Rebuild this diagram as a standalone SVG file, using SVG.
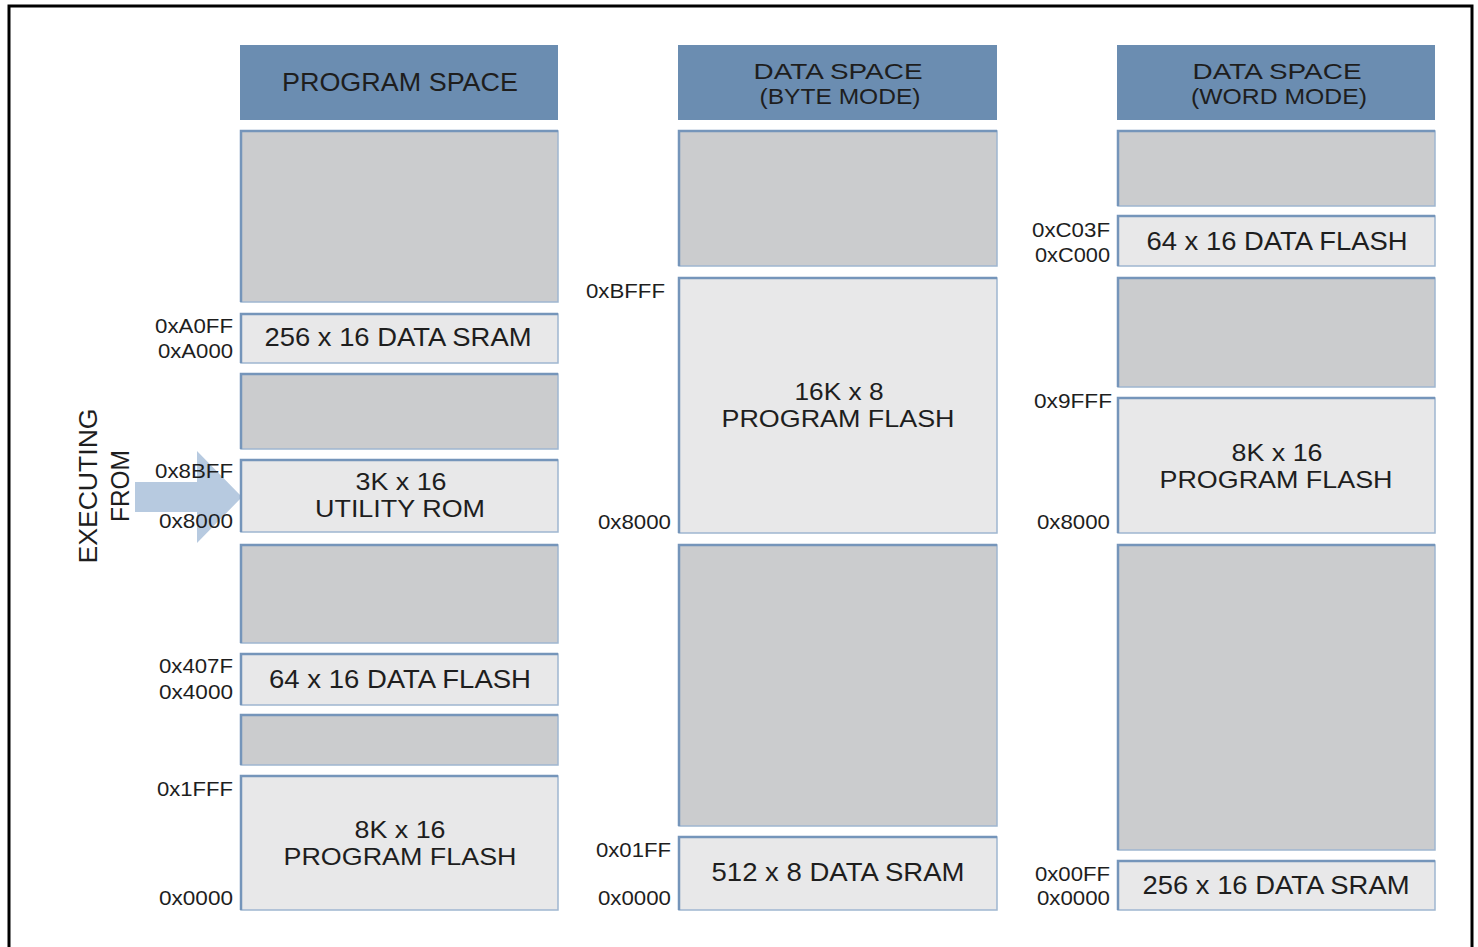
<svg xmlns="http://www.w3.org/2000/svg" width="1478" height="947" viewBox="0 0 1478 947">
<style>
  .frame{fill:#ffffff;stroke:#000000;stroke-width:3}
  .hdr{fill:#6b8db1}
  .gray{fill:#cbccce;stroke:#9fb6d0;stroke-width:1.5}
  .lite{fill:#e8e8e9;stroke:#9fb6d0;stroke-width:1.5}
  .edge{fill:none;stroke:#7595ba;stroke-width:2.5}
  text{font-family:"Liberation Sans",Arial,Helvetica,sans-serif;fill:#1e1e1e}
  .lbl{font-size:26px;text-anchor:middle}
  .lbl2{font-size:24px;text-anchor:middle}
  .htxt{font-size:25px;text-anchor:middle}
  .htxt2{font-size:22px;text-anchor:middle}
  .addr{font-size:21px;text-anchor:end}
  .side{font-size:26px;text-anchor:middle}
</style>
<rect class="frame" x="9" y="6" width="1463" height="960"/>

<!-- Column headers -->
<g id="hdr-program">
  <rect class="hdr" x="240" y="45" width="318" height="75"/>
  <text class="htxt" x="400" y="91" textLength="236" lengthAdjust="spacingAndGlyphs">PROGRAM SPACE</text>
</g>
<g id="hdr-data-byte">
  <rect class="hdr" x="678" y="45" width="319" height="75"/>
  <text class="htxt2" x="838" y="79" textLength="169" lengthAdjust="spacingAndGlyphs">DATA SPACE</text>
  <text class="htxt2" x="840" y="104" textLength="161" lengthAdjust="spacingAndGlyphs">(BYTE MODE)</text>
</g>
<g id="hdr-data-word">
  <rect class="hdr" x="1117" y="45" width="318" height="75"/>
  <text class="htxt2" x="1277" y="79" textLength="169" lengthAdjust="spacingAndGlyphs">DATA SPACE</text>
  <text class="htxt2" x="1279" y="104" textLength="176" lengthAdjust="spacingAndGlyphs">(WORD MODE)</text>
</g>

<!-- Program space column -->
<g id="p-gray1">
  <rect class="gray" x="241" y="131" width="317" height="171"/>
  <path class="edge" d="M241 302 V131 H558"/>
</g>
<g id="p-sram">
  <rect class="lite" x="241" y="314" width="317" height="49"/>
  <path class="edge" d="M241 363 V314 H558"/>
  <text class="lbl" x="398" y="346" textLength="267" lengthAdjust="spacingAndGlyphs">256 x 16 DATA SRAM</text>
  <text class="addr" x="233" y="333" textLength="78" lengthAdjust="spacingAndGlyphs">0xA0FF</text>
  <text class="addr" x="233" y="358" textLength="75" lengthAdjust="spacingAndGlyphs">0xA000</text>
</g>
<g id="p-gray2">
  <rect class="gray" x="241" y="374" width="317" height="75"/>
  <path class="edge" d="M241 449 V374 H558"/>
</g>
<g id="executing-arrow">
  <path d="M135 482 H197 V451 L242 497 L197 543 V512 H135 Z" fill="#aac1db" opacity="0.85"/>
</g>
<g id="p-rom">
  <rect class="lite" x="241" y="460" width="317" height="72"/>
  <path class="edge" d="M241 532 V460 H558"/>
  <text class="lbl2" x="401" y="490" textLength="91" lengthAdjust="spacingAndGlyphs">3K x 16</text>
  <text class="lbl2" x="400" y="517" textLength="170" lengthAdjust="spacingAndGlyphs">UTILITY ROM</text>
  <text class="addr" x="233" y="478" textLength="78" lengthAdjust="spacingAndGlyphs">0x8BFF</text>
  <text class="addr" x="233" y="528" textLength="74" lengthAdjust="spacingAndGlyphs">0x8000</text>
</g>
<g id="p-gray3">
  <rect class="gray" x="241" y="545" width="317" height="98"/>
  <path class="edge" d="M241 643 V545 H558"/>
</g>
<g id="p-dflash">
  <rect class="lite" x="241" y="654" width="317" height="51"/>
  <path class="edge" d="M241 705 V654 H558"/>
  <text class="lbl" x="400" y="688" textLength="262" lengthAdjust="spacingAndGlyphs">64 x 16 DATA FLASH</text>
  <text class="addr" x="233" y="673" textLength="74" lengthAdjust="spacingAndGlyphs">0x407F</text>
  <text class="addr" x="233" y="699" textLength="74" lengthAdjust="spacingAndGlyphs">0x4000</text>
</g>
<g id="p-gray4">
  <rect class="gray" x="241" y="715" width="317" height="50"/>
  <path class="edge" d="M241 765 V715 H558"/>
</g>
<g id="p-pflash">
  <rect class="lite" x="241" y="776" width="317" height="134"/>
  <path class="edge" d="M241 910 V776 H558"/>
  <text class="lbl2" x="400" y="838" textLength="91" lengthAdjust="spacingAndGlyphs">8K x 16</text>
  <text class="lbl2" x="400" y="865" textLength="233" lengthAdjust="spacingAndGlyphs">PROGRAM FLASH</text>
  <text class="addr" x="233" y="796" textLength="76" lengthAdjust="spacingAndGlyphs">0x1FFF</text>
  <text class="addr" x="233" y="905" textLength="74" lengthAdjust="spacingAndGlyphs">0x0000</text>
</g>

<!-- Data space byte mode column -->
<g id="b-gray1">
  <rect class="gray" x="679" y="131" width="318" height="135"/>
  <path class="edge" d="M679 266 V131 H997"/>
</g>
<g id="b-pflash">
  <rect class="lite" x="679" y="278" width="318" height="255"/>
  <path class="edge" d="M679 533 V278 H997"/>
  <text class="lbl2" x="839" y="400" textLength="89" lengthAdjust="spacingAndGlyphs">16K x 8</text>
  <text class="lbl2" x="838" y="427" textLength="233" lengthAdjust="spacingAndGlyphs">PROGRAM FLASH</text>
  <text class="addr" x="665" y="298" textLength="79" lengthAdjust="spacingAndGlyphs">0xBFFF</text>
  <text class="addr" x="671" y="529" textLength="73" lengthAdjust="spacingAndGlyphs">0x8000</text>
</g>
<g id="b-gray2">
  <rect class="gray" x="679" y="545" width="318" height="281"/>
  <path class="edge" d="M679 826 V545 H997"/>
</g>
<g id="b-sram">
  <rect class="lite" x="679" y="837" width="318" height="73"/>
  <path class="edge" d="M679 910 V837 H997"/>
  <text class="lbl" x="838" y="881" textLength="253" lengthAdjust="spacingAndGlyphs">512 x 8 DATA SRAM</text>
  <text class="addr" x="671" y="857" textLength="75" lengthAdjust="spacingAndGlyphs">0x01FF</text>
  <text class="addr" x="671" y="905" textLength="73" lengthAdjust="spacingAndGlyphs">0x0000</text>
</g>

<!-- Data space word mode column -->
<g id="w-gray1">
  <rect class="gray" x="1118" y="131" width="317" height="75"/>
  <path class="edge" d="M1118 206 V131 H1435"/>
</g>
<g id="w-dflash">
  <rect class="lite" x="1118" y="216" width="317" height="50"/>
  <path class="edge" d="M1118 266 V216 H1435"/>
  <text class="lbl" x="1277" y="250" textLength="261" lengthAdjust="spacingAndGlyphs">64 x 16 DATA FLASH</text>
  <text class="addr" x="1110" y="237" textLength="78" lengthAdjust="spacingAndGlyphs">0xC03F</text>
  <text class="addr" x="1110" y="262" textLength="75" lengthAdjust="spacingAndGlyphs">0xC000</text>
</g>
<g id="w-gray2">
  <rect class="gray" x="1118" y="278" width="317" height="109"/>
  <path class="edge" d="M1118 387 V278 H1435"/>
</g>
<g id="w-pflash">
  <rect class="lite" x="1118" y="398" width="317" height="135"/>
  <path class="edge" d="M1118 533 V398 H1435"/>
  <text class="lbl2" x="1277" y="461" textLength="91" lengthAdjust="spacingAndGlyphs">8K x 16</text>
  <text class="lbl2" x="1276" y="488" textLength="233" lengthAdjust="spacingAndGlyphs">PROGRAM FLASH</text>
  <text class="addr" x="1112" y="408" textLength="78" lengthAdjust="spacingAndGlyphs">0x9FFF</text>
  <text class="addr" x="1110" y="529" textLength="73" lengthAdjust="spacingAndGlyphs">0x8000</text>
</g>
<g id="w-gray3">
  <rect class="gray" x="1118" y="545" width="317" height="305"/>
  <path class="edge" d="M1118 850 V545 H1435"/>
</g>
<g id="w-sram">
  <rect class="lite" x="1118" y="861" width="317" height="49"/>
  <path class="edge" d="M1118 910 V861 H1435"/>
  <text class="lbl" x="1276" y="894" textLength="267" lengthAdjust="spacingAndGlyphs">256 x 16 DATA SRAM</text>
  <text class="addr" x="1110" y="881" textLength="75" lengthAdjust="spacingAndGlyphs">0x00FF</text>
  <text class="addr" x="1110" y="905" textLength="73" lengthAdjust="spacingAndGlyphs">0x0000</text>
</g>

<!-- Side label -->
<g id="executing-from">
  <text class="side" transform="translate(97,486) rotate(-90)" textLength="155" lengthAdjust="spacingAndGlyphs">EXECUTING</text>
  <text class="side" transform="translate(129,486) rotate(-90)" style="font-size:25px" textLength="72" lengthAdjust="spacingAndGlyphs">FROM</text>
</g>

<g id="connectors"></g>
</svg>
